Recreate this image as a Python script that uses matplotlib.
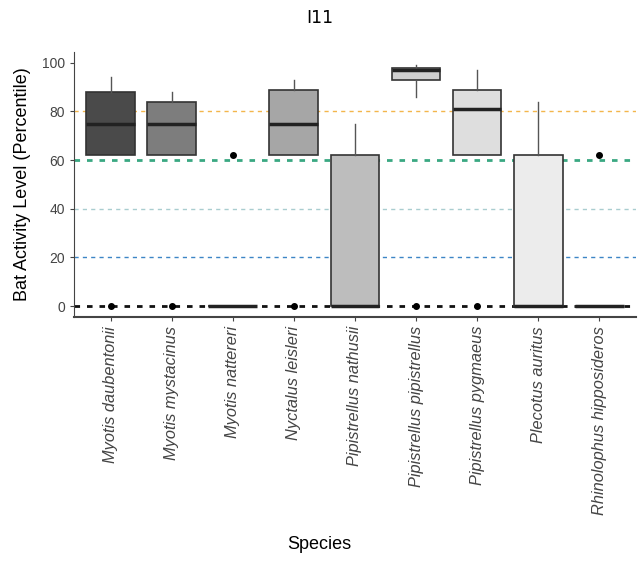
import matplotlib
matplotlib.use("Agg")
import matplotlib.pyplot as plt

plt.rcParams["font.family"] = ["Liberation Sans", "DejaVu Sans"]

species = ["Myotis daubentonii", "Myotis mystacinus", "Myotis nattereri",
           "Nyctalus leisleri", "Pipistrellus nathusii", "Pipistrellus pipistrellus",
           "Pipistrellus pygmaeus", "Plecotus auritus", "Rhinolophus hipposideros"]
q1 = [62, 62, 0, 62, 0, 93, 62, 0, 0]
med = [75, 75, 0, 75, 0, 97, 81, 0, 0]
q3 = [88, 84, 0, 89, 62, 98, 89, 62, 0]
whis_lo = [62, 62, 0, 62, 0, 86, 62, 0, 0]
whis_hi = [94, 88, 0, 93, 75, 99, 97, 84, 0]
outliers = [[0], [0], [62], [0], [], [0], [0], [], [62]]
fills = ["#4a4a4a", "#7d7d7d", "#909090", "#a6a6a6", "#bdbdbd",
         "#cfcfcf", "#dedede", "#ececec", "#f5f5f5"]

ref_levels = [80, 60, 40, 20, 0]
ref_colors = ["#f3b64c", "#3aa882", "#a9cdd0", "#3d85c6", "#111111"]
ref_widths = [1.0, 2.0, 1.0, 1.0, 2.0]

fig = plt.figure(figsize=(6.39, 5.63), dpi=100)
ax = fig.add_axes([0.116, 0.437, 0.879, 0.471])

for lvl, col, lw in zip(ref_levels, ref_colors, ref_widths):
    ax.axhline(lvl, color=col, lw=lw, ls=(0, (3, 3)) if lw < 1.5 else (0, (2, 2.5)), zorder=1)

stats = []
for i in range(len(species)):
    stats.append(dict(label=species[i], q1=q1[i], med=med[i], q3=q3[i],
                      whislo=whis_lo[i], whishi=whis_hi[i], fliers=outliers[i]))

bp = ax.bxp(stats, positions=range(1, len(species) + 1), widths=0.8,
            patch_artist=True, showcaps=False,
            boxprops=dict(edgecolor="#333333", linewidth=1.2),
            medianprops=dict(color="#222222", linewidth=2.5),
            whiskerprops=dict(color="#555555", linewidth=1.0),
            flierprops=dict(marker="o", markerfacecolor="black", markeredgecolor="black",
                            markersize=4))
for patch, c in zip(bp["boxes"], fills):
    patch.set_facecolor(c)
    patch.set_zorder(2)

ax.set_xlim(0.4, 9.6)
ax.set_ylim(-4.5, 104.5)
ax.set_yticks([0, 20, 40, 60, 80, 100])
ax.set_xticks(range(1, len(species) + 1))
ax.set_xticklabels(species, rotation=90, style="italic", fontsize=11.8,
                   color="#444444", ha="center", va="top")
ax.tick_params(axis="y", labelsize=10, labelcolor="#444444", color="#444444", length=3)
ax.tick_params(axis="x", color="#444444", length=3)

for s in ["top", "right"]:
    ax.spines[s].set_visible(False)
ax.spines["left"].set_color("#444444")
ax.spines["bottom"].set_color("#444444")
ax.spines["bottom"].set_linewidth(1.5)

ax.set_ylabel("Bat Activity Level (Percentile)", fontsize=13, labelpad=8)
fig.text(0.5, 0.025, "Species", ha="center", fontsize=13)
fig.text(0.5, 0.96, "I11", ha="center", fontsize=12.5, family="DejaVu Sans")

fig.savefig("out.png", dpi=100)
